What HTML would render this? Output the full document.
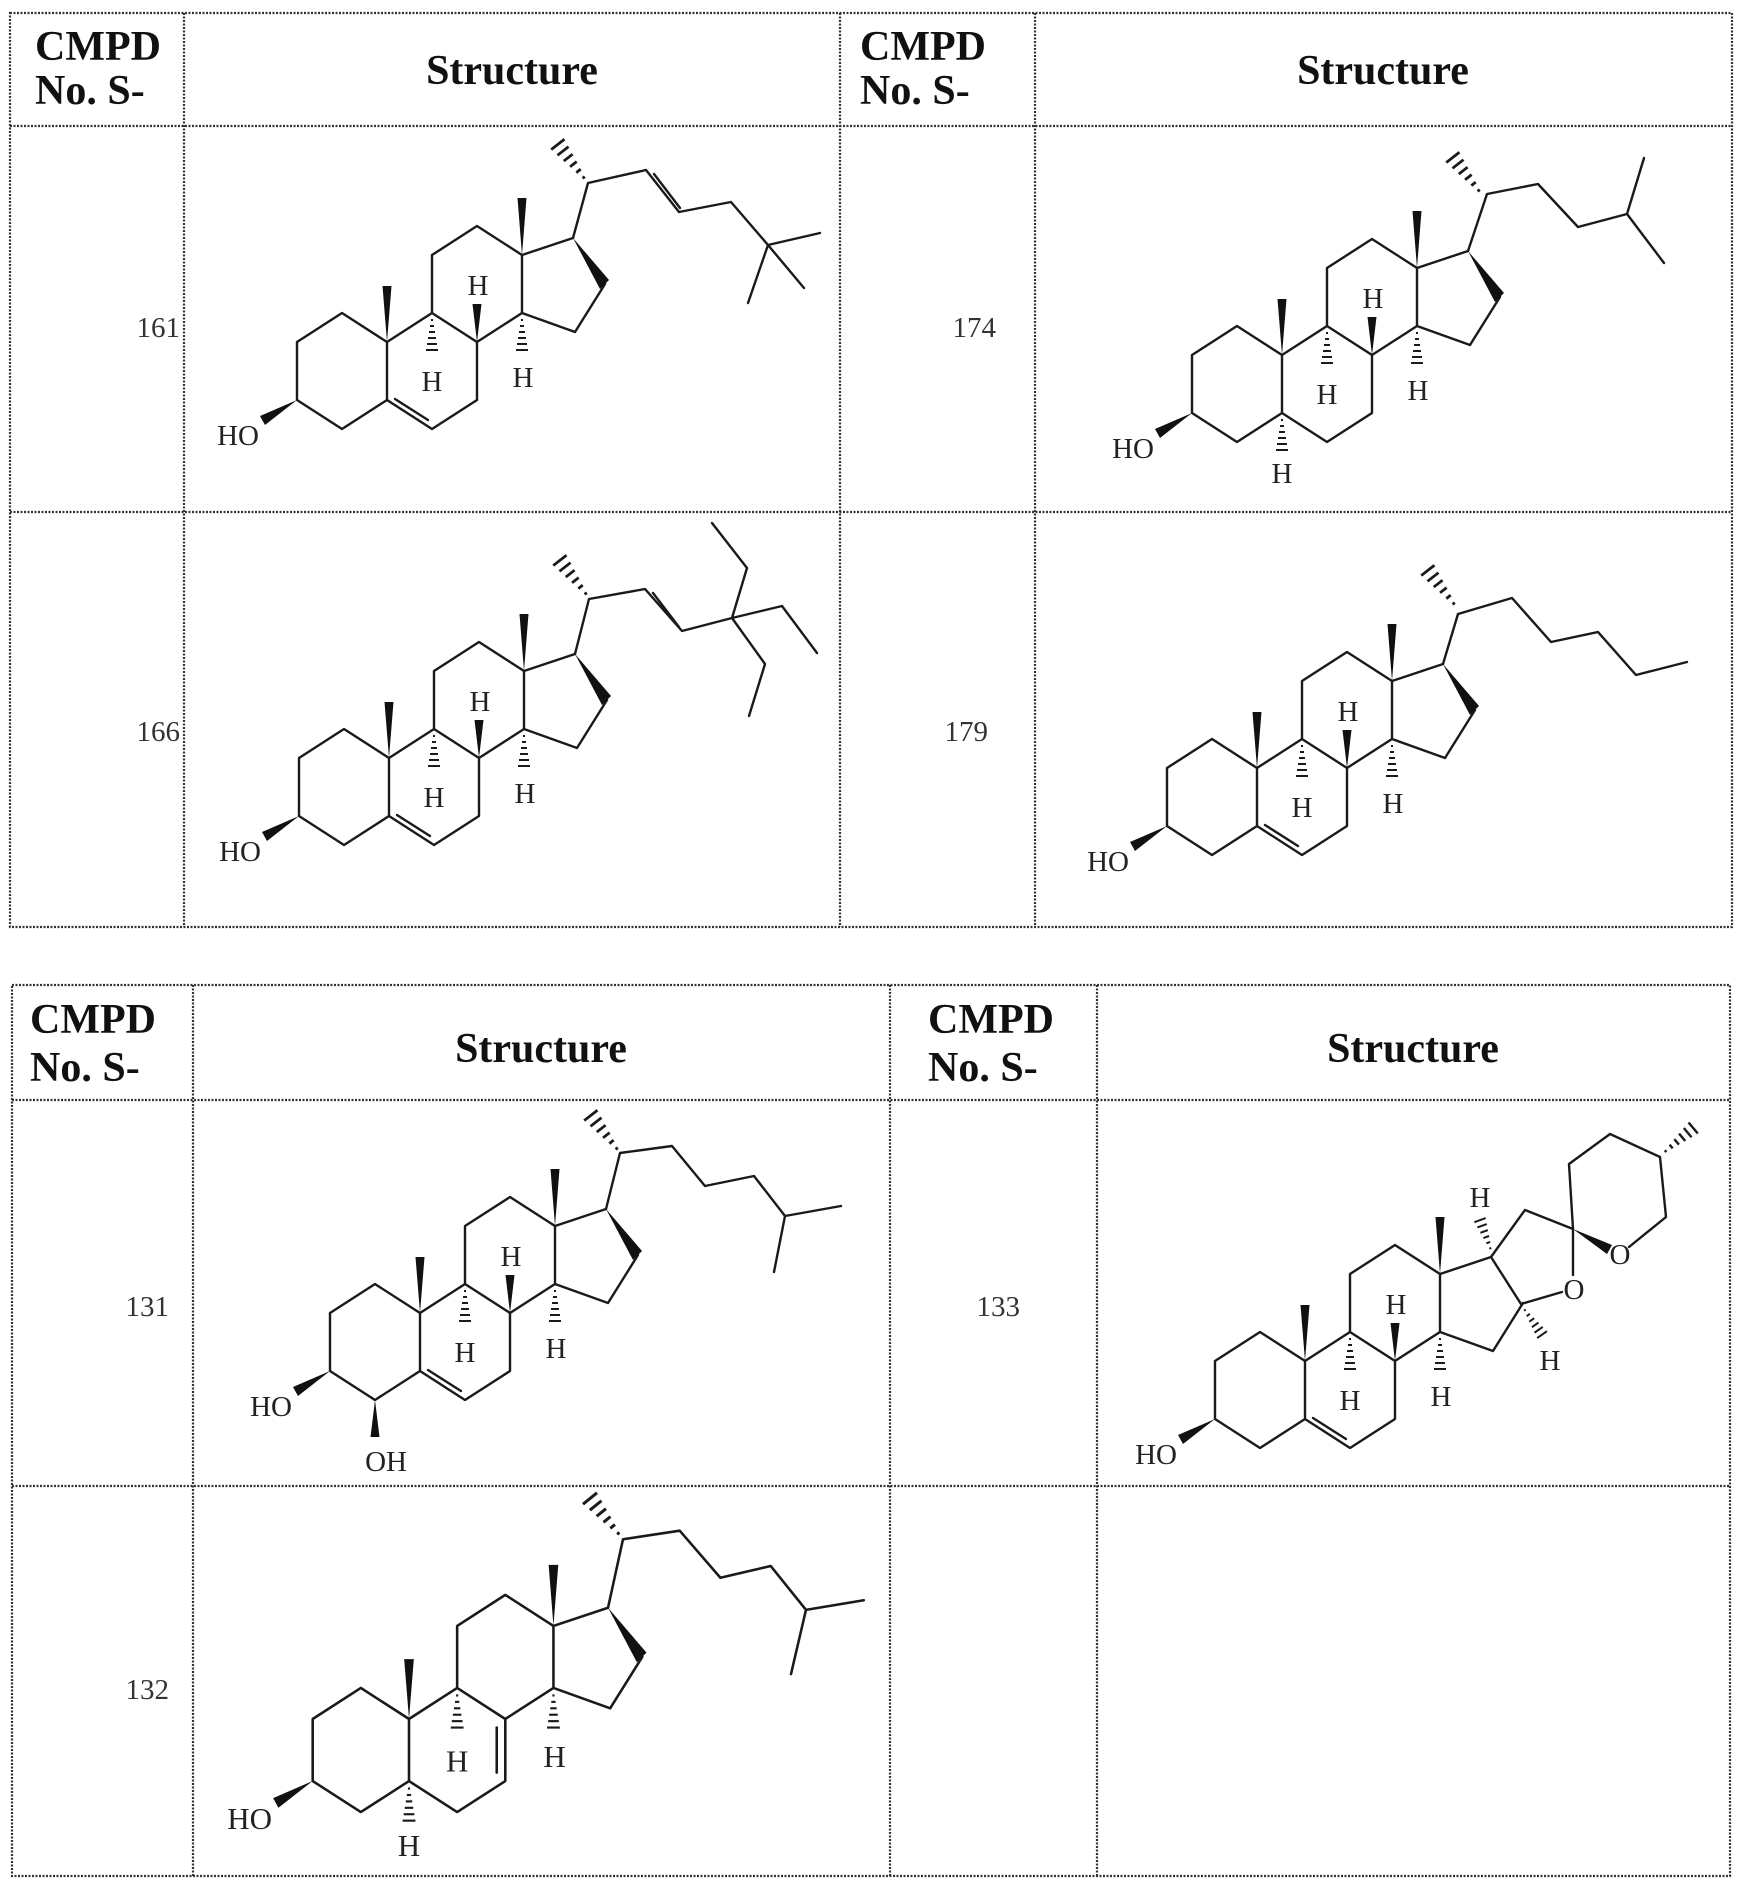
<!DOCTYPE html>
<html><head><meta charset="utf-8"><style>
html,body{margin:0;padding:0;background:#fff}
svg{display:block}
.t{font-family:"Liberation Serif",serif;fill:#111}
.h{font-weight:bold;font-size:42px}
.n{font-size:29px;fill:#333}
.a{font-family:"Liberation Serif",serif;font-size:29px;fill:#222}
.b{fill:none;stroke:#1a1a1a;stroke-width:2.4;stroke-linejoin:round;stroke-linecap:round}
.g{fill:none;stroke:#333;stroke-width:2.2;stroke-dasharray:2 1.5}
</style></head><body>
<svg width="1745" height="1898" viewBox="0 0 1745 1898" xmlns="http://www.w3.org/2000/svg">
<defs>
 <g id="hash">
  <g stroke="#1a1a1a" stroke-width="2">
   <line x1="-1" y1="5" x2="1" y2="5"/><line x1="-2" y1="11" x2="2" y2="11"/>
   <line x1="-3" y1="17" x2="3" y2="17"/><line x1="-4" y1="23" x2="4" y2="23"/>
   <line x1="-5" y1="29" x2="5" y2="29"/><line x1="-6" y1="35" x2="6" y2="35"/>
  </g>
 </g>
 <g id="ringsABC">
  <path class="b" d="M0,0 L-45,-29 L-90,0 L-90,58 L-45,87 L0,58 Z M0,58 L45,87 L90,58 L90,0 L45,-29 L0,0 M45,-29 L45,-87 L90,-116 L135,-87 L135,-29 L90,0 M135,-87 L186,-104 M218,-58 L188,-10 L135,-29"/>
  <polygon points="0,0 -4.5,-56 4.5,-56" fill="#111"/>
  <polygon points="135,-87 130.5,-144 139.5,-144" fill="#111"/>
  <polygon points="-90,58 -127,74 -122,83" fill="#111"/>
  <text class="a" x="-128" y="103" text-anchor="end">HO</text>
 </g>
 <g id="core">
  <use href="#ringsABC"/>
  <polygon points="186,-104 213,-53 222,-62" fill="#111"/>
 </g>
 <g id="h9"><use href="#hash" transform="translate(45,-27)"/><text class="a" x="45" y="49" text-anchor="middle">H</text></g>
 <g id="h8"><polygon points="90,0 85.5,-38 94.5,-38" fill="#111"/><text class="a" x="91" y="-47" text-anchor="middle">H</text></g>
 <g id="h14"><use href="#hash" transform="translate(135,-27)"/><text class="a" x="136" y="45" text-anchor="middle">H</text></g>
 <g id="h5"><use href="#hash" transform="translate(0,60)"/><text class="a" x="0" y="128" text-anchor="middle">H</text></g>
 <path id="db56" class="b" d="M8,57 L41,78"/>
 <g id="me20"><use href="#hash" transform="translate(201,-159) rotate(142) scale(1.4)"/></g>
</defs>

<!-- TABLE 1 -->
<g class="g">
 <rect x="10" y="13" width="1722" height="914"/>
 <line x1="10" y1="126" x2="1732" y2="126"/>
 <line x1="10" y1="512" x2="1732" y2="512"/>
 <line x1="184" y1="13" x2="184" y2="927"/>
 <line x1="840" y1="13" x2="840" y2="927"/>
 <line x1="1035" y1="13" x2="1035" y2="927"/>
</g>
<text class="t h" x="35" y="60">CMPD</text>
<text class="t h" x="35" y="104">No. S-</text>
<text class="t h" x="512" y="84" text-anchor="middle">Structure</text>
<text class="t h" x="860" y="60">CMPD</text>
<text class="t h" x="860" y="104">No. S-</text>
<text class="t h" x="1383" y="84" text-anchor="middle">Structure</text>
<text class="t n" x="180" y="337" text-anchor="end">161</text>
<text class="t n" x="180" y="741" text-anchor="end">166</text>
<text class="t n" x="996" y="337" text-anchor="end">174</text>
<text class="t n" x="988" y="741" text-anchor="end">179</text>

<!-- 161 -->
<g transform="translate(387,342)">
 <use href="#core"/><use href="#db56"/><use href="#h9"/><use href="#h8"/><use href="#h14"/><use href="#me20"/>
 <path class="b" d="M186,-104 L201,-159 L259,-172 L292,-130 L344,-140 L381,-97 M381,-97 L433,-109 M381,-97 L417,-54 M381,-97 L361,-39 M267,-168 L293,-134"/>
</g>
<!-- 166 -->
<g transform="translate(389,758)">
 <use href="#core"/><use href="#db56"/><use href="#h9"/><use href="#h8"/><use href="#h14"/><use href="#me20"/>
 <path class="b" d="M186,-104 L200,-159 L256,-169 L293,-127 L343,-140 L358,-190 L323,-235 M343,-140 L393,-152 L428,-105 M343,-140 L376,-94 L360,-42 M264,-165 L290,-131"/>
</g>
<!-- 174 -->
<g transform="translate(1282,355)">
 <use href="#core"/><use href="#h9"/><use href="#h8"/><use href="#h14"/><use href="#h5"/><use href="#me20"/>
 <path class="b" d="M186,-104 L205,-161 L256,-171 L296,-128 L345,-141 L362,-197 M345,-141 L382,-92"/>
</g>
<!-- 179 -->
<g transform="translate(1257,768)">
 <use href="#core"/><use href="#db56"/><use href="#h9"/><use href="#h8"/><use href="#h14"/><use href="#me20"/>
 <path class="b" d="M186,-104 L201,-154 L255,-170 L294,-126 L341,-136 L379,-93 L430,-106"/>
</g>

<!-- TABLE 2 -->
<g class="g">
 <rect x="12" y="985" width="1718" height="891"/>
 <line x1="12" y1="1100" x2="1730" y2="1100"/>
 <line x1="12" y1="1486" x2="1730" y2="1486"/>
 <line x1="193" y1="985" x2="193" y2="1876"/>
 <line x1="890" y1="985" x2="890" y2="1876"/>
 <line x1="1097" y1="985" x2="1097" y2="1876"/>
</g>
<text class="t h" x="30" y="1033">CMPD</text>
<text class="t h" x="30" y="1081">No. S-</text>
<text class="t h" x="541" y="1062" text-anchor="middle">Structure</text>
<text class="t h" x="928" y="1033">CMPD</text>
<text class="t h" x="928" y="1081">No. S-</text>
<text class="t h" x="1413" y="1062" text-anchor="middle">Structure</text>
<text class="t n" x="169" y="1316" text-anchor="end">131</text>
<text class="t n" x="1020" y="1316" text-anchor="end">133</text>
<text class="t n" x="169" y="1699" text-anchor="end">132</text>

<!-- 131 -->
<g transform="translate(420,1313)">
 <use href="#core"/><use href="#db56"/><use href="#h9"/><use href="#h8"/><use href="#h14"/><use href="#me20"/>
 <path class="b" d="M186,-104 L200,-160 L252,-167 L285,-127 L334,-137 L365,-97 L421,-107 M365,-97 L354,-41"/>
 <polygon points="-45,87 -49.5,124 -40.5,124" fill="#111"/>
 <text class="a" x="-34" y="158" text-anchor="middle">OH</text>
</g>
<!-- 132 -->
<g transform="translate(409,1719) scale(1.07)">
 <use href="#core"/><use href="#h9"/><use href="#h14"/><use href="#h5"/>
 <use href="#hash" transform="translate(200,-168) rotate(141) scale(1.4)"/>
 <path class="b" d="M82,8 L82,50 M186,-104 L200,-168 L253,-176 L291,-132 L338,-143 L371,-102 L425,-111 M371,-102 L357,-42"/>
</g>
<!-- 133 -->
<g transform="translate(1305,1361)">
 <use href="#ringsABC"/><use href="#db56"/><use href="#h9"/><use href="#h8"/><use href="#h14"/>
 <path class="b" d="M186,-104 L216,-57 M186,-104 L220,-151 L268,-132 L268,-86 M216,-57 L257,-69 M268,-132 L264,-197 L305,-227 L355,-204 L361,-144 L324,-114"/>
 <polygon points="268,-132 302,-107 307,-116" fill="#111"/>
 <use href="#hash" transform="translate(187,-108) rotate(160) scale(1.0)"/>
 <text class="a" x="175" y="-154" text-anchor="middle">H</text>
 <use href="#hash" transform="translate(217,-55) rotate(-35) scale(1.0)"/>
 <text class="a" x="245" y="9" text-anchor="middle">H</text>
 <use href="#hash" transform="translate(356,-206) rotate(-130) scale(1.2)"/>
 <text class="a" x="269" y="-62" text-anchor="middle">O</text>
 <text class="a" x="315" y="-97" text-anchor="middle">O</text>
</g>
</svg>
</body></html>
